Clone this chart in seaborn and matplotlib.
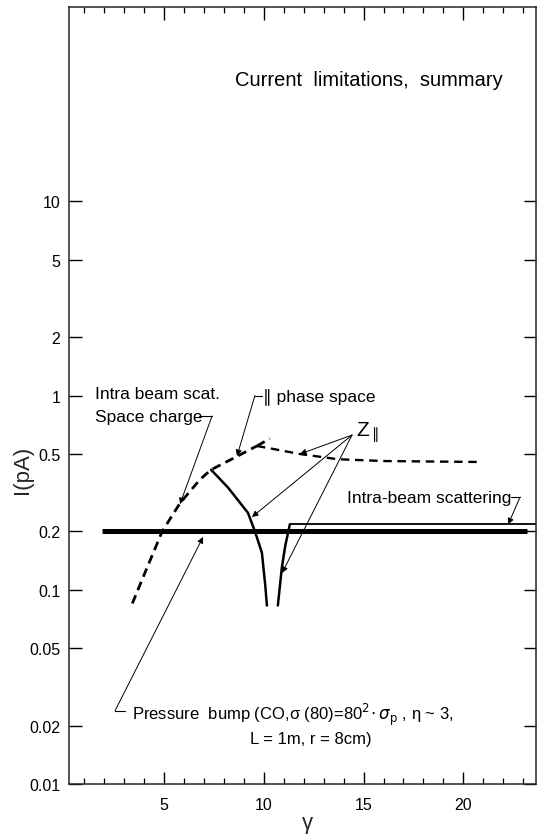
import matplotlib
matplotlib.use("Agg")
import matplotlib.pyplot as plt
from matplotlib.ticker import FixedLocator, NullLocator
import pandas as pd
import seaborn as sns

# ---- data (gamma, current in pA) ----
# space charge / intra-beam scattering limit, dashed
space_gamma = [3.4, 4.0, 4.9, 5.8, 6.8, 7.35, 8.55, 9.65]
space_I = [0.085, 0.12, 0.2, 0.28, 0.37, 0.415, 0.48, 0.55]
# longitudinal phase-space branch, dashed
phase_gamma = [9.65, 10.3]
phase_I = [0.55, 0.60]
# Z|| branch, dashed
zdash_gamma = [9.65, 10.5, 11.8, 13.7, 16.0, 20.7]
zdash_I = [0.55, 0.53, 0.50, 0.47, 0.46, 0.455]
# Z|| left branch, solid
zleft_gamma = [7.35, 8.2, 9.2, 9.55, 9.9, 10.07, 10.15]
zleft_I = [0.415, 0.336, 0.249, 0.2, 0.155, 0.105, 0.083]
# Z|| right branch, solid
zright_gamma = [10.7, 10.9, 11.07, 11.3]
zright_I = [0.083, 0.13, 0.168, 0.217]
# intra-beam scattering limit
ibs_gamma = [11.3, 23.65]
ibs_I = [0.217, 0.217]
# pressure bump limit
pb_gamma = [1.9, 23.2]
pb_I = [0.2, 0.2]

ytick_vals = [0.01, 0.02, 0.05, 0.1, 0.2, 0.5, 1, 2, 5, 10]
ytick_labels = ["0.01", "0.02", "0.05", "0.1", "0.2", "0.5", "1", "2", "5", "10"]
xtick_major = [5, 10, 15, 20]
xtick_labels = ["5", "10", "15", "20"]
xtick_minor = [1, 2, 3, 4, 6, 7, 8, 9, 11, 12, 13, 14, 16, 17, 18, 19, 21, 22, 23]

sns.set_theme(style="ticks")
plt.rcParams["font.family"] = ["Liberation Sans", "DejaVu Sans"]
plt.rcParams["axes.linewidth"] = 1.1

fig = plt.figure(figsize=(5.37, 8.37), dpi=100)
ax = fig.add_axes([0.1276, 0.0621, 0.8706, 0.9283])
ax.set_yscale("log")

def curve(g, i, **kw):
    df = pd.DataFrame({"gamma": g, "I": i})
    sns.lineplot(data=df, x="gamma", y="I", ax=ax, color="black",
                 estimator=None, sort=False, **kw)

curve(pb_gamma, pb_I, lw=3.6, solid_capstyle="butt")
curve(ibs_gamma, ibs_I, lw=1.3)
curve(space_gamma, space_I, lw=2.0, linestyle=(0, (3.2, 2.0)))
curve(phase_gamma, phase_I, lw=2.0, linestyle=(0, (3.2, 2.0)))
curve(zdash_gamma, zdash_I, lw=1.7, linestyle=(0, (3.6, 2.4)))
curve(zleft_gamma, zleft_I, lw=1.8)
curve(zright_gamma, zright_I, lw=1.8)

ax.set_xlim(0.2, 23.65)
ax.set_ylim(0.01, 100)

ax.yaxis.set_major_locator(FixedLocator(ytick_vals))
ax.set_yticklabels(ytick_labels)
ax.yaxis.set_minor_locator(NullLocator())
ax.xaxis.set_major_locator(FixedLocator(xtick_major))
ax.set_xticklabels(xtick_labels)
ax.xaxis.set_minor_locator(FixedLocator(xtick_minor))

ax.tick_params(axis="both", which="both", direction="in", colors="black",
               top=True, right=True, labelsize=11.5)
ax.tick_params(axis="y", which="major", length=9, width=1.0, pad=6)
ax.tick_params(axis="x", which="major", length=9, width=1.0, pad=9)
ax.tick_params(axis="x", which="minor", length=4.5, width=0.9)

ax.set_xlabel("γ", fontsize=16)
ax.set_ylabel("I(pA)", fontsize=16)
ax.xaxis.set_label_coords(0.512, -0.036)
ax.yaxis.set_label_coords(-0.077, 0.405)

txt = dict(color="black", fontsize=12.5, va="center")
arrow = dict(arrowstyle="-|>", lw=0.7, color="black", mutation_scale=9,
             shrinkA=0, shrinkB=0)
lead = dict(color="black", lw=0.8)

ax.text(0.643, 0.907, "Current  limitations,  summary", transform=ax.transAxes,
        ha="center", va="center", fontsize=14.5, color="black")

# space charge label
ax.text(1.53, 1.02, "Intra beam scat.", ha="left", **txt)
ax.text(1.53, 0.784, "Space charge", ha="left", **txt)
ax.plot([6.75, 7.4], [0.784, 0.784], **lead)
ax.annotate("", xy=(5.79, 0.276), xytext=(7.4, 0.784), arrowprops=arrow)

# phase space label
ax.text(9.96, 1.0, "∥ phase space", ha="left", **txt)
ax.plot([9.55, 9.9], [1.0, 1.0], **lead)
ax.annotate("", xy=(8.65, 0.488), xytext=(9.55, 1.0), arrowprops=arrow)

# Z|| label with three arrows
ax.text(15.22, 0.648, r"Z$_{\parallel}$", ha="center", va="center",
        fontsize=15, color="black")
for tip in [(11.81, 0.50), (9.40, 0.2368), (10.91, 0.122)]:
    ax.annotate("", xy=tip, xytext=(14.42, 0.626), arrowprops=arrow)

# intra-beam scattering label
ax.text(14.17, 0.30, "Intra-beam scattering", ha="left", **txt)
ax.plot([22.4, 22.85], [0.30, 0.30], **lead)
ax.annotate("", xy=(22.25, 0.217), xytext=(22.85, 0.30), arrowprops=arrow)

# pressure bump label
pb_txt = dict(txt, fontsize=12)
ax.text(3.39, 0.0229,
        r"Pressure  bump (CO,σ (80)=80$^2\!\cdot\sigma_{\rm p}$ , η ~ 3,",
        ha="left", **pb_txt)
ax.text(12.36, 0.0171, "L = 1m, r = 8cm)", ha="center", **pb_txt)
ax.plot([3.03, 2.53], [0.0238, 0.0238], **lead)
ax.annotate("", xy=(6.95, 0.187), xytext=(2.53, 0.0238), arrowprops=arrow)

fig.savefig("out.png", dpi=100, facecolor="white")
